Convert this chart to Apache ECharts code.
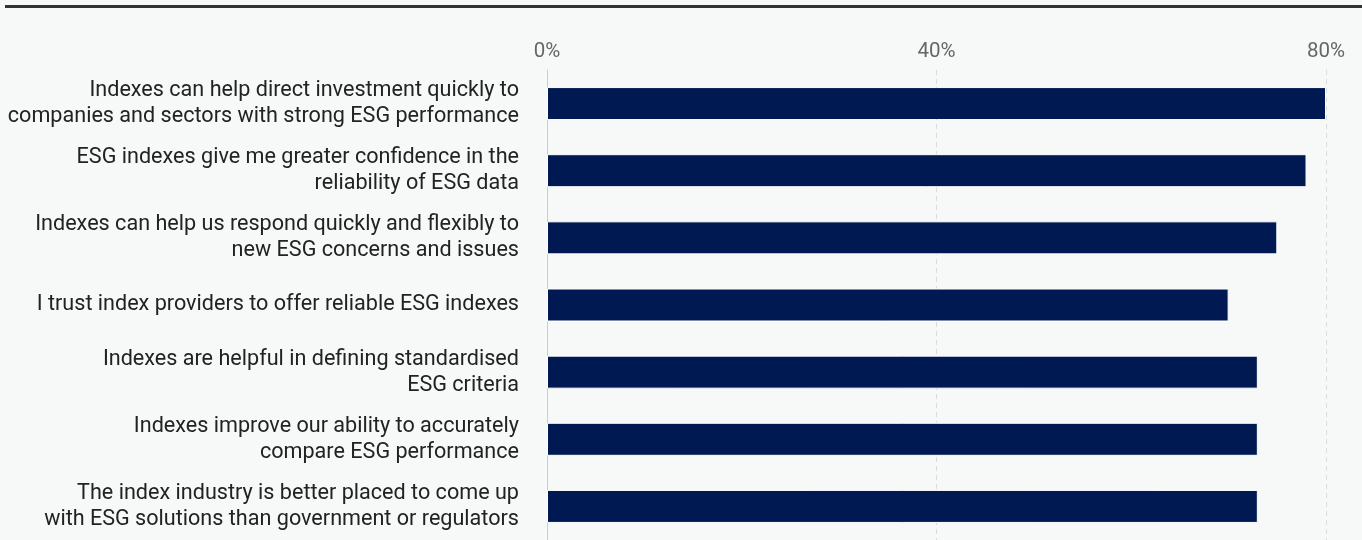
<!DOCTYPE html>
<html>
<head>
<meta charset="utf-8">
<style>
  html, body { margin: 0; padding: 0; background: #f7f8f8; }
  #chart { width: 1362px; height: 540px; }
</style>
<script src="https://cdn.jsdelivr.net/npm/echarts@6/dist/echarts.min.js"></script>
</head>
<body>
<div id="chart"></div>
<script>
// Survey statements (top to bottom) and share of respondents agreeing (%)
const statements = [
  'Indexes can help direct investment quickly to\ncompanies and sectors with strong ESG performance',
  'ESG indexes give me greater confidence in the\nreliability of ESG data',
  'Indexes can help us respond quickly and flexibly to\nnew ESG concerns and issues',
  'I trust index providers to offer reliable ESG indexes',
  'Indexes are helpful in defining standardised\nESG criteria',
  'Indexes improve our ability to accurately\ncompare ESG performance',
  'The index industry is better placed to come up\nwith ESG solutions than government or regulators'
];
const agreeShare = [80, 78, 75, 70, 73, 73, 73];
const axisTicks = [0, 40, 80];

const chart = echarts.init(document.getElementById('chart'));
chart.setOption({
  backgroundColor: '#f7f8f8',
  animation: false,
  textStyle: { fontFamily: 'Roboto' },
  graphic: [{
    type: 'rect',
    shape: { x: 5, y: 5, width: 1357, height: 3 },
    style: { fill: '#333333' }
  }],
  grid: { left: 547, right: 36, top: 70, bottom: -5, containLabel: false },
  xAxis: {
    type: 'value',
    position: 'top',
    min: axisTicks[0],
    max: axisTicks[axisTicks.length - 1],
    interval: axisTicks[1] - axisTicks[0],
    axisLine: { show: false },
    axisTick: { show: false },
    axisLabel: {
      color: '#666666',
      fontSize: 20.5,
      margin: 8,
      formatter: v => v + '%'
    },
    splitLine: {
      show: true,
      lineStyle: { color: '#dcdcdc', type: [5, 4], width: 1 }
    }
  },
  yAxis: {
    type: 'category',
    inverse: true,
    data: statements,
    axisLine: { show: true, lineStyle: { color: '#cccccc', width: 1 } },
    axisTick: { show: false },
    axisLabel: {
      color: '#222222',
      fontSize: 21.6,
      lineHeight: 26,
      margin: 28,
      padding: [4, 0, 0, 0],
      align: 'right'
    }
  },
  series: [{
    type: 'bar',
    data: agreeShare,
    barWidth: 33,
    itemStyle: { color: '#001952', borderColor: '#ffffff', borderWidth: 1 }
  }]
});
</script>
</body>
</html>
